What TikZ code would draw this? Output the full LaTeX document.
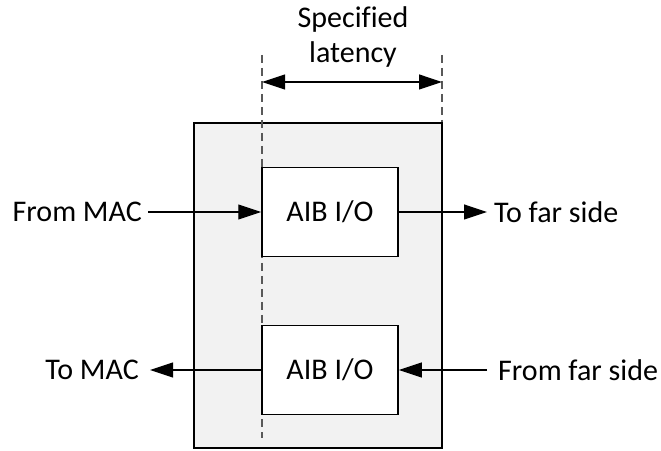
\documentclass[tikz,border=0pt]{standalone}
\usepackage{fontspec}
\setmainfont{Carlito}[Ligatures=NoCommon]
\usetikzlibrary{arrows.meta, positioning}
\definecolor{pkggray}{RGB}{242,242,242}
\definecolor{markgray}{RGB}{89,89,89}
\tikzset{
  pkg/.style={rectangle, draw=black, fill=pkggray, line width=1.5pt,
    minimum width=248pt, minimum height=325pt, inner sep=0pt},
  iobox/.style={rectangle, draw=black, fill=white, line width=1.5pt,
    minimum width=136pt, minimum height=89pt, inner sep=0pt,
    font=\fontsize{30}{35}\selectfont},
  lbl/.style={inner sep=0pt, font=\fontsize{30}{35}\selectfont},
  sig/.style={-{Triangle[length=23pt,width=15pt]}, line width=1.2pt},
  dimarrow/.style={{Triangle[length=23pt,width=15pt]}-{Triangle[length=23pt,width=15pt]}, line width=1.2pt},
  marker/.style={color=markgray, line width=1.3pt, dash pattern=on 8pt off 5pt}
}
\begin{document}
\begin{tikzpicture}[x=1pt,y=1pt]
  \useasboundingbox (0,0) rectangle (661,450);

  % Package outline
  \node[pkg] (pkg) at (318,164.5) {};

  % Latency markers
  \coordinate (mkltop) at (262,395);
  \coordinate (mklbot) at (262,12);
  \coordinate (mkrtop) at (442,395);
  \draw[marker] (mkltop) -- (mklbot);
  \draw[marker] (mkrtop) -- (mkrtop |- pkg.north);

  % I/O blocks
  \node[iobox] (aibtx) at (330,238) {AIB I/O};
  \node[iobox] (aibrx) at (330,80) {AIB I/O};

  % Latency span
  \coordinate (spanl) at (262,368);
  \coordinate (spanr) at (442,368);
  \draw[dimarrow] (spanl) -- (spanr);
  \node[lbl, align=center] (latency) at (353,413) {Specified\\latency};

  % Signals
  \node[lbl, anchor=east] (frommac) at (142,238) {From MAC};
  \node[lbl, anchor=west] (tofar) at (494,238) {To far side};
  \node[lbl, anchor=east] (tomac) at (139,80) {To MAC};
  \node[lbl, anchor=west] (fromfar) at (498,80) {From far side};

  \draw[sig, shorten <=6pt] (frommac.east) -- (frommac.east -| aibtx.west);
  \draw[sig, shorten >=7pt] (aibtx.east) -- (aibtx.east -| tofar.west);
  \draw[sig, shorten >=11pt] (aibrx.west) -- (aibrx.west -| tomac.east);
  \draw[sig, shorten <=11pt] (fromfar.west) -- (fromfar.west -| aibrx.east);
\end{tikzpicture}
\end{document}
